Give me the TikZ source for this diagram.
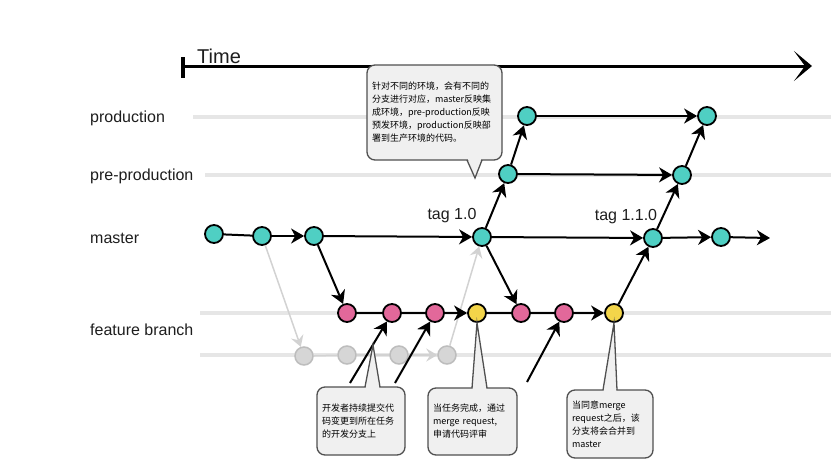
\documentclass[tikz,border=0pt]{standalone}
\usepackage{fontspec}
\setmainfont{Liberation Sans}
\newfontfamily\cjk{Noto Sans CJK SC}
\usetikzlibrary{arrows.meta}
\definecolor{tealc}{HTML}{4FCFC3}
\definecolor{pinkc}{HTML}{E2689A}
\definecolor{yellowc}{HTML}{F3D54A}
\definecolor{graynode}{HTML}{D6D6D6}
\definecolor{grayborder}{HTML}{BDBDBD}
\definecolor{rowgray}{HTML}{E6E6E6}
\definecolor{garrow}{HTML}{D2D2D2}
\definecolor{callfill}{HTML}{F0F0F0}
\definecolor{calldraw}{HTML}{505050}
\definecolor{labc}{HTML}{1E1E1E}
\begin{document}
\begin{tikzpicture}[x=1pt,y=-1pt,
  commit/.style={circle,draw=black,line width=1.8pt,minimum size=18pt,inner sep=0pt},
  mnode/.style={commit,fill=tealc},
  pnode/.style={commit,fill=pinkc},
  ynode/.style={commit,fill=yellowc},
  gnode/.style={circle,draw=grayborder,fill=graynode,line width=1.5pt,minimum size=18pt,inner sep=0pt},
  link/.style={line width=2pt,black},
  arr/.style={link,-{Stealth[length=13pt,width=15pt,inset=4pt]}},
  garr/.style={line width=1.5pt,garrow,-{Stealth[length=11pt,width=13pt,inset=4pt]}},
  glink/.style={line width=1.5pt,garrow},
  rowline/.style={line width=3.5pt,rowgray},
  lab/.style={anchor=west,inner sep=0pt,text=labc,font=\fontsize{16}{18}\selectfont},
  taglab/.style={inner sep=0pt,text=labc,font=\fontsize{16}{18}\selectfont},
  callbox/.style={draw=calldraw,fill=callfill,rounded corners=8pt,line width=1.3pt,
    inner sep=0pt,align=left,font=\cjk\fontsize{9}{13}\selectfont},
  callside/.style={draw=calldraw,line width=1.3pt,line join=miter},
  callfillst/.style={fill=callfill}
]
\useasboundingbox (0,0) rectangle (831,467);
\fill[white] (0,0) rectangle (831,467);

% row lines
\draw[rowline] (193,117) -- (831,117);
\draw[rowline] (205,175) -- (831,175);
\draw[rowline] (200,313) -- (831,313);
\draw[rowline] (200,355) -- (831,355);

% time axis
\coordinate (t0) at (183,66);
\coordinate (t1) at (812,66);
\draw[line width=3.2pt] (183,57) -- (183,78);
\draw[line width=3pt,-{Stealth[length=18pt,width=30pt,inset=11pt]}] (t0) -- (t1);
\node[anchor=west,inner sep=0pt,text=labc,font=\fontsize{20}{22}\selectfont] (time) at (197,56) {Time};

% labels
\node[lab] (lprod) at (90,118) {production};
\node[lab] (lpre) at (90,176) {pre-production};
\node[lab] (lmaster) at (90,238) {master};
\node[lab] (lfeat) at (90,330) {feature branch};

% nodes
\node[mnode] (m1) at (214,234) {};
\node[mnode] (m2) at (262,236) {};
\node[mnode] (m3) at (314,236) {};
\node[mnode] (m4) at (482,237) {};
\node[mnode] (m5) at (653,238) {};
\node[mnode] (m6) at (721,237) {};
\coordinate (mend) at (770,238);

\node[mnode] (pp1) at (508,174) {};
\node[mnode] (pp2) at (682,175) {};
\node[mnode] (pr1) at (527,116) {};
\node[mnode] (pr2) at (707,116) {};

\node[pnode] (f1) at (347,313) {};
\node[pnode] (f2) at (392,313) {};
\node[pnode] (f3) at (435,313) {};
\node[ynode] (f4) at (477,313) {};
\node[pnode] (f5) at (521,313) {};
\node[pnode] (f6) at (564,313) {};
\node[ynode] (f7) at (614,313) {};

\node[gnode] (g1) at (304,356) {};
\node[gnode] (g2) at (347,355) {};
\node[gnode] (g3) at (399,355) {};
\node[gnode] (g4) at (447,355) {};

\node[taglab] (tag1) at (452,216) {tag 1.0};
\node[taglab] (tag2) at (626,217) {tag 1.1.0};

% gray edges
\draw[garr] (m2) -- (g1);
\draw[glink] (g1) -- (g2);
\draw[glink] (g2) -- (g3);
\draw[garr] (g3) -- (g4);
\draw[garr] (g4) -- (m4);

% master edges
\draw[link] (m1) -- (m2);
\draw[arr] (m2) -- (m3);
\draw[arr] (m3) -- (m4);
\draw[arr] (m4) -- (m5);
\draw[arr] (m5) -- (m6);
\draw[arr] (m6) -- (mend);

% environment edges
\draw[arr] (m4) -- (pp1);
\draw[arr] (pp1) -- (pr1);
\draw[arr] (pr1) -- (pr2);
\draw[arr] (pp1) -- (pp2);
\draw[arr] (m5) -- (pp2);
\draw[arr] (pp2) -- (pr2);

% feature edges
\draw[arr] (m3) -- (f1);
\draw[link] (f1) -- (f2);
\draw[link] (f2) -- (f3);
\draw[arr] (f3) -- (f4);
\draw[link] (f4) -- (f5);
\draw[arr] (m4) -- (f5);
\draw[link] (f5) -- (f6);
\draw[arr] (f6) -- (f7);
\draw[arr] (f7) -- (m5);

% commits pushed from below
\coordinate (d1) at (350,383);
\coordinate (d2) at (395,383);
\coordinate (d3) at (527,382);
\draw[arr] (d1) -- (f2);
\draw[arr] (d2) -- (f3);
\draw[arr] (d3) -- (f6);

% top callout
\node[callbox,minimum width=135pt,minimum height=95pt,text width=125pt] (c1) at (434.5,112.5)
 {针对不同的环境，会有不同的\\分支进行对应，master反映集\\成环境，pre-production反映\\预发环境，production反映部\\署到生产环境的代码。};
\coordinate (c1a) at (467,160);
\coordinate (c1b) at (482,160);
\coordinate (c1t) at (475,178);
\fill[callfillst] (467.5,158) -- (c1t) -- (481.5,158) -- cycle;
\draw[callside] (c1a) -- (c1t) -- (c1b);

% bottom callouts
\node[callbox,minimum width=88pt,minimum height=68pt,text width=78pt] (c2) at (361,421)
 {开发者持续提交代\\码变更到所在任务\\的开发分支上};
\coordinate (c2a) at (365,387);
\coordinate (c2b) at (380,387);
\coordinate (c2t) at (373,345);
\fill[callfillst] (365.5,389) -- (c2t) -- (379.5,389) -- cycle;
\draw[callside] (c2a) -- (c2t) -- (c2b);

\node[callbox,minimum width=89pt,minimum height=67pt,text width=79pt] (c3) at (472.5,421.5)
 {当任务完成，通过\\merge request,\\申请代码评审};
\coordinate (c3a) at (472,388);
\coordinate (c3b) at (487,388);
\fill[callfillst] (472.5,390) -- (f4.south) -- (486.5,390) -- cycle;
\draw[callside] (c3a) -- (f4.south) -- (c3b);

\node[callbox,minimum width=86pt,minimum height=68pt,text width=76pt] (c4) at (610,424)
 {当同意merge\\request之后，该\\分支将会合并到\\master};
\coordinate (c4a) at (603,390);
\coordinate (c4b) at (617,390);
\fill[callfillst] (603.5,392) -- (f7.south) -- (616.5,392) -- cycle;
\draw[callside] (c4a) -- (f7.south) -- (c4b);
\end{tikzpicture}
\end{document}
